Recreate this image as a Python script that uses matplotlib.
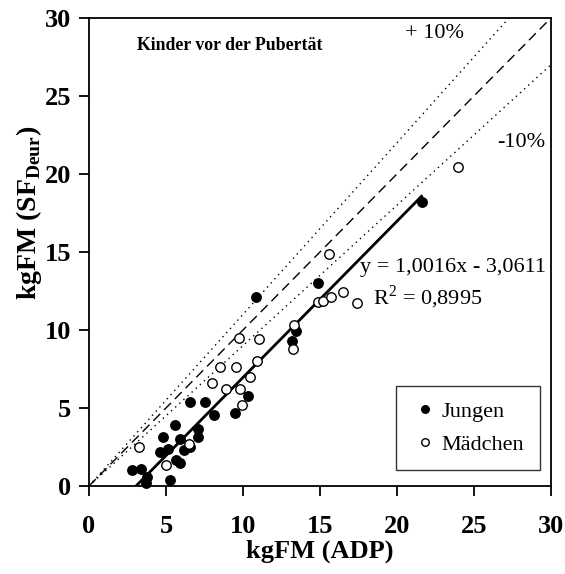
import numpy as np
import matplotlib
matplotlib.use("Agg")
import matplotlib.pyplot as plt

# Jungen (filled), values
boys_adp = [2.77, 3.38, 3.75, 3.70, 5.26, 5.58, 4.82, 4.61, 5.10, 5.94, 5.68, 5.91,
            6.17, 6.59, 7.11, 7.05, 6.56, 7.56, 8.15, 9.51, 10.36, 10.84, 14.89,
            13.47, 13.21, 21.60]
boys_sf = [1.03, 1.12, 0.58, 0.19, 0.38, 3.88, 3.16, 2.20, 2.37, 3.04, 1.67, 1.49,
           2.31, 2.53, 3.63, 3.14, 5.37, 5.37, 4.58, 4.71, 5.74, 12.12, 12.99,
           9.92, 9.31, 18.22]

# Mädchen (open)
girls_adp = [3.28, 4.97, 6.51, 7.97, 8.49, 9.55, 9.74, 11.02, 8.90, 9.81, 9.94,
             10.47, 10.91, 15.62, 14.89, 15.21, 15.71, 16.51, 17.40, 13.32, 13.23,
             23.98]
girls_sf = [2.53, 1.35, 2.71, 6.62, 7.66, 7.63, 9.51, 9.41, 6.20, 6.21, 5.19,
            6.97, 8.03, 14.87, 11.81, 11.86, 12.12, 12.46, 11.75, 10.29, 8.80,
            20.47]

slope = 1.0016
intercept = -3.0611
ticks = [0, 5, 10, 15, 20, 25, 30]

plt.rcParams["font.family"] = ["Liberation Serif", "DejaVu Serif"]
plt.rcParams["mathtext.fontset"] = "custom"
plt.rcParams["mathtext.rm"] = "Liberation Serif"
plt.rcParams["mathtext.bf"] = "Liberation Serif:bold"


def main():
    fig = plt.figure(figsize=(5.65, 5.74), dpi=100)
    ax = fig.add_axes([0.1575, 0.1533, 0.8175, 0.8153])

    x = np.array([0, 30])
    ax.plot(x, x, color="black", lw=1.0, ls=(0, (7, 4)))
    ax.plot(x, 1.1 * x, color="black", lw=1.0, ls=(0, (1, 3)))
    ax.plot(x, 0.9 * x, color="black", lw=1.0, ls=(0, (1, 3)))

    # regression line over the boys' range
    x_fit = np.array([-intercept / slope, max(boys_adp)])
    ax.plot(x_fit, slope * x_fit + intercept, color="black", lw=2)

    ax.plot(boys_adp, boys_sf, "o", color="black", ms=6.8, label="Jungen",
            clip_on=False, zorder=3)
    ax.plot(girls_adp, girls_sf, "o", mfc="white", mec="black", mew=1.0, ms=6.8,
            label="Mädchen", clip_on=False, zorder=3)

    ax.set_xlim(0, 30)
    ax.set_ylim(0, 30)
    ax.set_xticks(ticks)
    ax.set_yticks(ticks)
    ax.tick_params(direction="out", length=7, width=1.3, labelsize=19)
    ax.tick_params(axis="x", pad=14)
    ax.tick_params(axis="y", pad=6)
    for lab in ax.get_xticklabels() + ax.get_yticklabels():
        lab.set_fontweight("bold")
    for sp in ax.spines.values():
        sp.set_linewidth(1.3)

    ax.set_xlabel("kgFM (ADP)", fontsize=19, fontweight="bold", labelpad=1)
    ax.set_ylabel(r"kgFM (SF$_{\mathbf{Deur}}$)", fontsize=20, fontweight="bold")
    ax.yaxis.set_label_coords(-0.098, 0.583)

    ax.text(3.12, 28.27, "Kinder vor der Pubertät", fontsize=12.8,
            fontweight="bold", va="center")
    ax.text(20.5, 29.0, "+ 10%", fontsize=16, va="center")
    ax.text(26.5, 22.05, "-10%", fontsize=16, va="center")
    ax.text(17.6, 14.0, "y = 1,0016x - 3,0611", fontsize=16, va="center")
    ax.text(18.44, 12.1, r"R$^{2}$ = 0,8995", fontsize=16, va="center")

    leg = ax.legend(loc="lower right", bbox_to_anchor=(0.976, 0.034), fontsize=16,
                    frameon=True, fancybox=False, edgecolor="black",
                    handletextpad=0.15, handlelength=1.2, borderpad=0.7,
                    labelspacing=0.55, markerscale=0.8, borderaxespad=0)
    leg.get_frame().set_linewidth(1.0)

    fig.savefig("out.png", dpi=100)


if __name__ == "__main__":
    main()
